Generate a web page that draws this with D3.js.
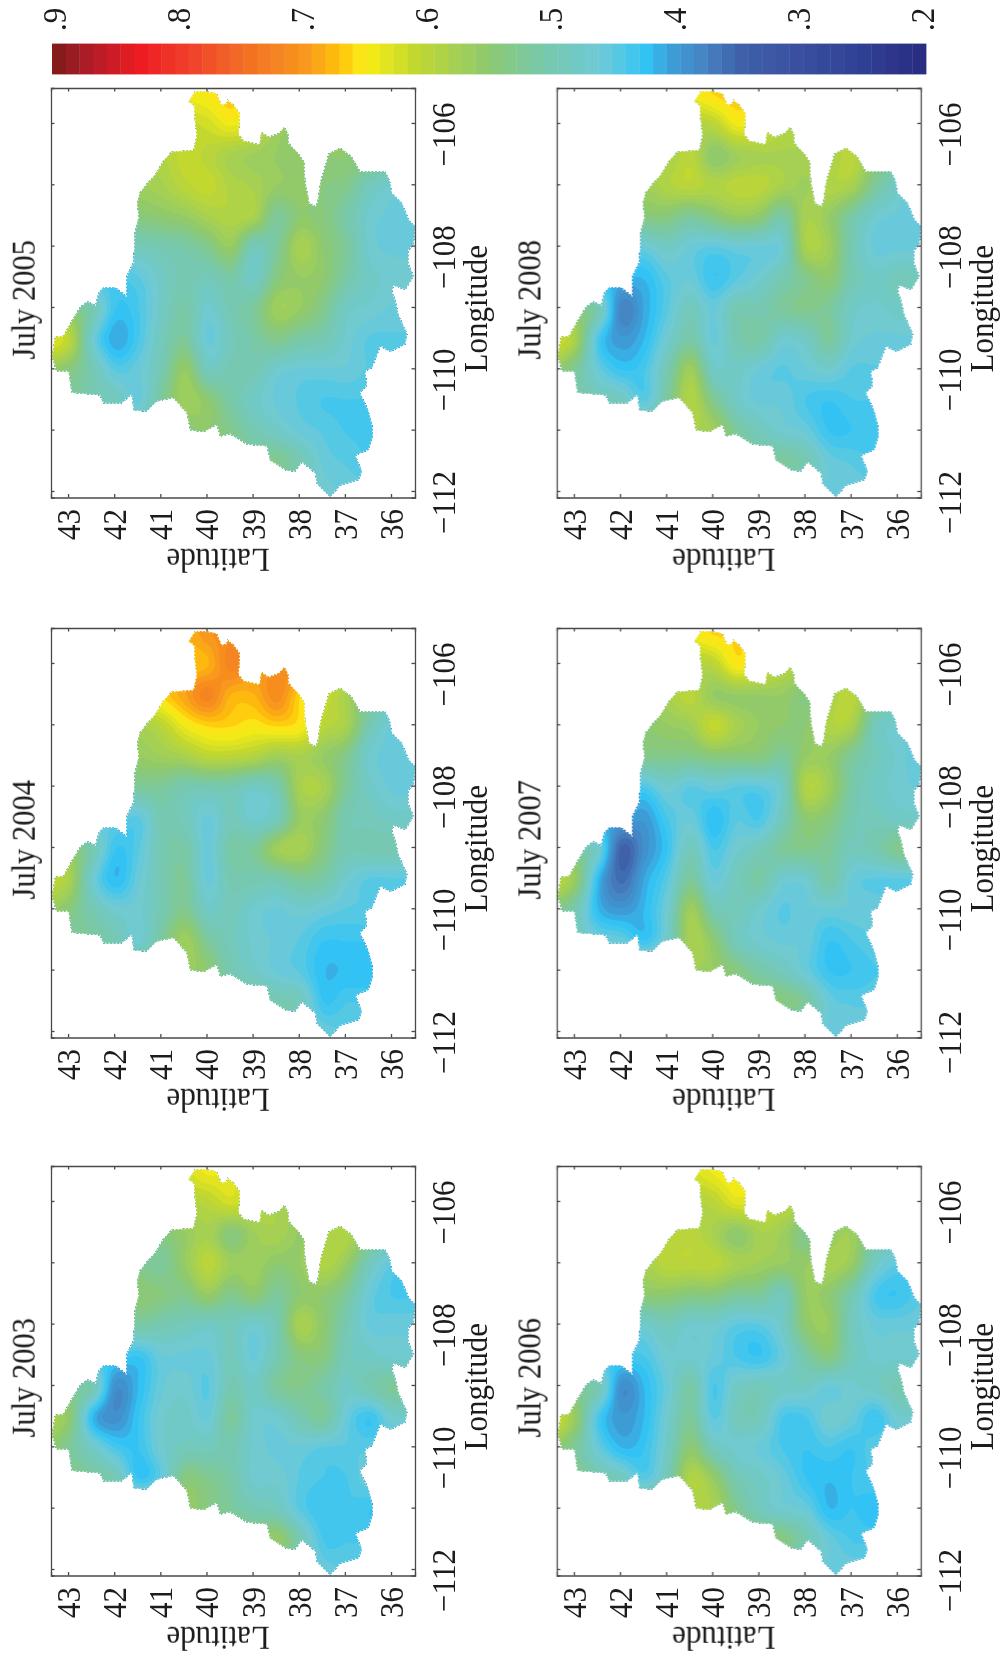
<!DOCTYPE html>
<meta charset="utf-8">
<style>
body { margin: 0; background: #fff; }
text { font-family: "Liberation Serif", serif; fill: #1a1a1a; }
.frame path, .frame line { stroke: #4a4a4a; stroke-width: 1.3px; }
.lab path, .lab line { stroke: none; }
</style>
<svg width="1001" height="1656"></svg>
<script src="https://d3js.org/d3.v7.min.js"></script>
<script>

// grid the values are read on, in hundredths
var gridLat = [43.5,43,42.5,42,41.5,41,40.5,40,39.5,39,38.5,38,37.5,37,36.5,36,35.5];
var gridLon = [-105.5,-106,-106.5,-107,-107.5,-108,-108.5,-109,-109.5,-110,-110.5,-111,-111.5,-112];

var july2005 = [
[62,62,62,62,62,62,64,65,67,64,60,58,56,54,52,50,48],
[60,60,60,60,60,60,61,62,64,62,57,56,55,54,52,50,48],
[58,58,58,58,58,59,61,60,58,57,56,55,55,55,54,52,50],
[55,55,55,56,57,58,60,61,59,58,56,56,54,53,49,47,46],
[52,52,52,53,54,55,56,58,59,58,52,55,54,51,47,46,46],
[47,47,47,48,49,50,51,53,56,49,52,58,55,52,47,46,46],
[44,44,44,44,45,48,50,49,51,48,54,56,55,51,48,47,47],
[56,54,50,43,44,48,51,47,50,52,57,56,53,48,47,46,46],
[63,60,47,41,44,49,52,46,49,51,53,51,50,47,45,45,45],
[56,54,50,45,46,50,56,49,50,50,47,46,46,46,45,45,45],
[52,52,50,49,46,52,57,55,51,48,46,45,44,44,44,44,44],
[50,50,50,50,50,52,54,55,53,50,48,46,45,44,44,44,44],
[50,50,50,50,50,50,52,54,54,53,53,50,46,45,44,44,44],
[50,50,50,50,50,50,50,50,50,50,50,49,47,46,46,46,46]];

var july2004 = [
[68,68,68,68,68,68,68,70,71,70,68,66,64,60,56,52,50],
[66,66,66,66,66,66,67,68,72,70,70,70,65,60,55,52,50],
[62,62,62,62,63,66,69,72,68,68,71,66,62,58,53,50,48],
[58,58,58,58,58,60,64,66,66,65,66,65,60,58,50,46,46],
[55,55,55,55,56,57,58,60,60,59,57,58,56,53,47,46,46],
[52,52,52,52,52,52,50,50,50,48,50,58,58,52,48,46,46],
[46,46,46,46,45,50,49,46,49,47,49,56,55,50,49,48,48],
[56,55,50,43,45,50,51,46,51,52,57,58,54,50,50,50,50],
[60,58,47,42,46,50,52,46,50,50,50,52,51,47,45,45,45],
[57,54,50,47,47,50,53,48,49,47,46,47,46,45,45,45,45],
[52,52,52,50,47,52,57,52,49,47,46,45,43,43,43,43,43],
[52,52,52,52,52,54,56,55,50,48,46,45,42,42,42,42,42],
[50,50,50,50,50,50,52,53,52,52,50,49,43,44,44,44,44],
[48,48,48,48,48,48,48,48,48,48,48,47,46,45,45,45,45]];

var july2003 = [
[60,60,60,60,60,60,62,64,63,60,58,56,56,54,52,50,48],
[58,58,58,58,58,58,59,60,62,60,58,57,56,55,52,50,48],
[54,54,54,54,54,54,56,58,54,57,58,56,58,59,54,50,48],
[53,53,53,53,53,52,56,60,57,57,55,56,59,56,49,45,44],
[54,54,54,54,55,54,53,56,53,55,52,55,55,52,46,44,44],
[50,50,50,50,51,50,49,48,49,47,50,58,55,50,46,46,46],
[44,44,44,44,43,46,46,46,49,46,50,54,54,49,48,47,47],
[54,52,50,39,42,46,47,45,50,48,52,53,51,48,50,52,52],
[58,55,42,39,43,47,48,46,52,47,47,50,52,46,43,47,47],
[56,52,48,44,43,47,49,49,50,47,46,46,45,45,45,45,45],
[54,54,52,50,43,46,54,53,51,47,47,45,44,44,46,46,46],
[54,54,54,54,54,55,56,54,52,50,49,45,43,44,43,43,43],
[52,52,52,52,52,52,54,55,55,54,56,50,44,44,44,44,44],
[50,50,50,50,50,50,50,50,50,50,50,48,46,45,45,45,45]];

var july2008 = [
[62,62,62,62,62,62,64,66,67,66,62,60,58,56,54,52,50],
[58,58,58,58,58,58,59,60,64,63,60,59,58,58,55,52,50],
[58,58,58,58,58,58,60,55,57,58,58,58,58,60,55,52,50],
[57,57,57,57,57,59,60,59,60,60,58,57,59,58,52,48,46],
[54,54,54,54,54,54,52,54,56,55,51,58,56,51,47,46,45],
[46,46,46,46,46,48,46,45,46,46,47,58,57,50,46,46,46],
[42,42,42,42,42,45,46,43,45,47,50,53,55,50,48,49,49],
[56,54,50,38,41,45,49,46,50,50,52,53,52,48,47,48,48],
[62,58,44,40,42,47,51,46,50,51,47,48,52,47,46,46,46],
[56,52,46,43,44,50,57,48,48,46,45,46,47,45,45,45,45],
[52,52,50,49,45,52,59,53,48,46,46,44,43,44,44,44,44],
[54,54,54,54,54,56,58,57,52,49,47,46,43,43,44,44,44],
[52,52,52,52,52,52,53,54,53,52,52,50,46,45,44,44,44],
[48,48,48,48,48,48,48,48,48,48,48,47,46,46,46,46,46]];

var july2007 = [
[62,62,62,62,62,62,64,66,66,64,60,58,56,54,52,50,48],
[58,58,58,58,58,58,59,60,65,63,60,58,58,58,55,52,50],
[56,56,56,56,56,58,60,56,56,56,56,54,58,60,54,50,48],
[55,55,55,55,55,56,57,61,58,56,55,55,59,58,49,47,46],
[54,54,54,54,53,53,53,54,54,54,52,56,56,52,49,47,45],
[45,45,45,45,44,47,45,46,45,45,48,59,57,51,48,47,46],
[41,41,41,41,40,44,46,42,45,44,49,55,54,50,49,48,48],
[54,52,47,35,39,43,49,44,47,49,52,53,52,49,50,53,53],
[60,56,42,36,41,45,52,46,49,51,47,47,51,46,45,45,45],
[54,50,42,40,42,47,57,50,49,47,45,46,46,46,46,46,46],
[50,50,47,46,43,48,58,55,49,47,46,46,43,44,45,45,45],
[54,54,54,54,54,55,57,56,54,51,49,46,43,43,44,44,44],
[52,52,52,52,52,52,53,54,54,54,54,52,46,45,45,45,45],
[48,48,48,48,48,48,48,48,48,48,48,47,46,46,46,46,46]];

var july2006 = [
[60,60,60,60,60,60,62,64,65,62,60,58,56,54,52,50,48],
[58,58,58,58,58,58,59,60,63,62,60,59,57,56,54,52,50],
[58,58,58,58,58,59,60,58,55,58,57,53,56,57,52,50,48],
[58,58,58,58,58,60,60,60,58,57,56,56,58,56,48,45,44],
[55,55,55,55,55,55,54,54,52,52,49,56,55,50,44,43,45],
[47,47,47,47,47,49,47,47,45,45,48,55,56,49,46,46,46],
[44,44,44,44,44,47,47,46,44,43,46,51,54,49,47,47,47],
[54,52,50,39,42,46,51,44,48,49,48,48,46,47,48,50,50],
[62,56,44,40,42,47,52,45,49,49,44,44,47,46,43,47,47],
[56,52,46,42,43,48,55,49,47,46,44,43,44,43,45,45,45],
[54,54,51,49,45,50,59,56,50,48,46,43,42,43,44,44,44],
[55,55,55,55,55,56,58,58,53,49,47,46,42,43,42,42,42],
[52,52,52,52,52,52,54,56,56,55,54,50,46,44,44,44,44],
[48,48,48,48,48,48,48,48,48,48,48,47,46,46,46,46,46]];

// basin outline, [lat, lon]
var outline = [[40.25,-105.49],[40.06,-105.48],[39.78,-105.52],[39.67,-105.71],[39.56,-105.68],[39.54,-105.62],[39.41,-105.71],[39.28,-105.84],
[39.30,-106.19],[39.20,-106.29],[38.85,-106.35],[38.81,-106.15],[38.65,-106.23],[38.44,-106.17],[38.31,-106.07],[38.22,-106.20],[38.22,-106.33],
[38.00,-106.50],[37.88,-106.64],[37.86,-106.96],[37.77,-107.31],[37.64,-107.36],[37.59,-107.28],[37.53,-106.96],[37.35,-106.50],[37.10,-106.41],
[36.85,-106.55],[36.67,-106.79],[36.12,-106.79],[36.02,-106.96],[35.98,-107.14],[35.76,-107.31],[35.62,-107.57],[35.47,-107.69],[35.51,-107.98],
[35.62,-108.07],[35.62,-108.30],[35.51,-108.50],[35.69,-108.72],[35.94,-108.65],[35.98,-108.74],[35.91,-108.88],[35.84,-109.12],[35.65,-109.44],
[35.69,-109.61],[36.02,-109.73],[36.23,-109.64],[36.41,-109.99],[36.56,-110.05],[36.52,-110.28],[36.67,-110.40],[36.49,-110.69],[36.41,-110.92],
[36.39,-111.10],[36.49,-111.33],[36.77,-111.42],[36.63,-111.68],[36.70,-111.82],[37.10,-111.91],[37.32,-112.10],[37.61,-111.88],[37.64,-111.71],
[37.93,-111.53],[38.08,-111.68],[38.26,-111.67],[38.62,-111.50],[38.69,-111.27],[39.12,-111.24],[39.49,-111.07],[39.70,-111.11],[39.78,-110.92],
[40.06,-111.04],[40.35,-111.01],[40.43,-110.72],[40.72,-110.48],[41.08,-110.54],[41.29,-110.70],[41.58,-110.69],[41.62,-110.43],[41.84,-110.57],
[42.23,-110.57],[42.31,-110.44],[42.92,-110.40],[42.99,-110.05],[43.25,-110.05],[43.35,-109.81],[43.28,-109.49],[43.10,-109.47],[42.92,-109.23],
[42.74,-109.00],[42.58,-108.91],[42.41,-108.97],[42.34,-108.77],[42.23,-108.68],[41.98,-108.68],[41.74,-108.82],[41.73,-108.50],[41.58,-108.27],
[41.57,-108.07],[41.55,-107.78],[41.47,-107.54],[41.50,-107.31],[41.45,-107.14],[41.29,-106.99],[41.11,-106.84],[40.93,-106.61],[40.75,-106.47],
[40.28,-106.44],[40.21,-106.20],[40.25,-105.97],[40.27,-105.71],[40.39,-105.65]];

var latTicks = [43,42,41,40,39,38,37,36];
var lonTicks = [-106,-107,-108,-109,-110,-111,-112];
var lonLabels = [-106,-108,-110,-112];
var barTicks = [.9,.8,.7,.6,.5,.4,.3,.2];

var colorStops = [20,25,30,35,37.5,40.5,42.5,46,51,55,61,65,67,70,75,79,83,87,90];
var colorHex = ["#2a2c80","#2f3f94","#3a4f9f","#3f61a9","#4680c0","#3d9fd8","#30c4f5","#6dcad8","#78c8a8","#8dc971","#c3d82f","#fbee14","#ffc20e","#f7941d","#f26b25","#f0402a","#ed1c24","#b01e26","#7a1a1c"];

var panels = [
  {title: "July 2005", values: july2005, col: 0, row: 0},
  {title: "July 2004", values: july2004, col: 0, row: 1},
  {title: "July 2003", values: july2003, col: 0, row: 2},
  {title: "July 2008", values: july2008, col: 1, row: 0},
  {title: "July 2007", values: july2007, col: 1, row: 1},
  {title: "July 2006", values: july2006, col: 1, row: 2}
];

var colLeft = [51, 556.7], rowTop = [88, 628, 1166];
var panelW = 364, panelH = 409.5;
var nLevels = 64;
var stretch = "scale(1,1.08)";

var svg = d3.select("svg");
var page = svg.append("g");

var color = d3.scaleLinear().domain(colorStops).range(colorHex);
var barValue = d3.scaleLinear().domain([0, nLevels]).range([90, 20]);
var levels = d3.range(nLevels).map(function(i) { return barValue(i + 1); }).reverse();
function levelColor(t) { return color(t + 70 / nLevels / 2); }

// colour bar
var barX = d3.scaleLinear().domain([90, 20]).range([52, 926]);
var barLabelX = d3.scaleLinear().domain([.9, .2]).range([54, 922]);
var bar = page.append("g");
bar.selectAll("rect")
    .data(levels)
  .enter().append("rect")
    .attr("x", function(d) { return barX(d + 70 / nLevels); })
    .attr("y", 43.6)
    .attr("width", 874 / nLevels + 0.4)
    .attr("height", 30.8)
    .attr("fill", levelColor);

var barAxis = page.append("g")
    .attr("class", "lab")
    .attr("transform", "translate(0,31)")
    .call(d3.axisTop(barLabelX).tickValues(barTicks).tickSize(0).tickFormat(function(d) { return d3.format(".1f")(d).replace("0", ""); }));
barAxis.selectAll("text")
    .attr("y", 0).attr("dy", 0)
    .attr("text-anchor", "start")
    .attr("font-size", 31)
    .attr("transform", "translate(11,0) rotate(-90) " + stretch);

// bicubic refinement of the read grid so the bands come out round
function cr(a, b, c, d, t) {
  return b + 0.5 * t * (c - a + t * (2 * a - 5 * b + 4 * c - d + t * (3 * (b - c) + d - a)));
}
var K = 8;
function refine(values) {
  var nr = values.length, nc = values[0].length;
  var w = (nc + 1) * K + 1, h = (nr + 1) * K + 1, out = new Array(w * h);
  function at(r, c) { return values[Math.max(0, Math.min(nr - 1, r))][Math.max(0, Math.min(nc - 1, c))]; }
  for (var j = 0; j < h; j++) {
    var v = j / K - 1, r0 = Math.floor(v), tv = v - r0;
    for (var i = 0; i < w; i++) {
      var u = i / K - 1, c0 = Math.floor(u), tu = u - c0, p = [];
      for (var m = -1; m <= 2; m++) {
        p.push(cr(at(r0 + m, c0 - 1), at(r0 + m, c0), at(r0 + m, c0 + 1), at(r0 + m, c0 + 2), tu));
      }
      out[j * w + i] = cr(p[0], p[1], p[2], p[3], tv);
    }
  }
  return {w: w, h: h, data: out};
}

panels.forEach(function(p, n) {
  var x0 = colLeft[p.col], y0 = rowTop[p.row];
  var g = page.append("g").attr("transform", "translate(" + x0 + "," + y0 + ")");

  var lat = d3.scaleLinear().domain([43.37, 35.48]).range([0, panelW]);
  var lon = d3.scaleLinear().domain([-105.43, -112.106]).range([0, panelH]);

  var colIdx = d3.scaleLinear().domain([0, gridLat.length - 1]).range([gridLat[0], gridLat[gridLat.length - 1]]);
  var rowIdx = d3.scaleLinear().domain([0, gridLon.length - 1]).range([gridLon[0], gridLon[gridLon.length - 1]]);

  var basin = d3.line().x(function(d) { return lat(d[0]); }).y(function(d) { return lon(d[1]); }).curve(d3.curveLinearClosed)(outline);
  var clipId = "basin" + n;
  g.append("clipPath").attr("id", clipId)
    .append("path")
    .attr("d", basin);

  var field = refine(p.values);
  var contours = d3.contours().size([field.w, field.h]).thresholds(levels)(field.data);
  var toScreen = d3.geoTransform({
    point: function(u, v) {
      this.stream.point(lat(colIdx(u / K - 1)), lon(rowIdx(v / K - 1)));
    }
  });
  var path = d3.geoPath(toScreen);

  g.append("g").attr("clip-path", "url(#" + clipId + ")")
    .selectAll("path")
    .data(contours)
  .enter().append("path")
    .attr("d", path)
    .attr("fill", function(d) { return levelColor(d.value); });

  // serrated grid-cell edge of the basin
  g.append("path")
      .attr("d", basin)
      .attr("fill", "none")
      .attr("stroke", "#fff")
      .attr("stroke-width", 1.1)
      .attr("stroke-dasharray", "1.4,2.1");

  // frame and inward ticks on all four sides
  function noLabel() { return ""; }
  g.append("g").attr("class", "frame")
      .call(d3.axisBottom(lat).tickValues(latTicks).tickSize(3.5).tickFormat(noLabel));
  g.append("g").attr("class", "frame").attr("transform", "translate(0," + panelH + ")")
      .call(d3.axisTop(lat).tickValues(latTicks).tickSize(3.5).tickFormat(noLabel));
  g.append("g").attr("class", "frame")
      .call(d3.axisRight(lon).tickValues(lonTicks).tickSize(3.5).tickFormat(noLabel));
  g.append("g").attr("class", "frame").attr("transform", "translate(" + panelW + ",0)")
      .call(d3.axisLeft(lon).tickValues(lonTicks).tickSize(3.5).tickFormat(noLabel));

  // tick labels
  var latAxis = g.append("g").attr("class", "lab").attr("transform", "translate(0," + panelH + ")")
      .call(d3.axisBottom(lat).tickValues(latTicks).tickSize(0));
  latAxis.selectAll("text")
      .attr("y", 0).attr("dy", 0)
      .attr("font-size", 31)
      .attr("transform", "translate(11.5,27) rotate(-90) " + stretch);

  var lonAxis = g.append("g").attr("class", "lab").attr("transform", "translate(" + panelW + ",0)")
      .call(d3.axisRight(lon).tickValues(lonLabels).tickSize(0).tickFormat(function(d) { return "\u2212" + Math.abs(d); }));
  lonAxis.selectAll("text")
      .attr("x", 0).attr("dy", 0)
      .attr("text-anchor", "middle")
      .attr("font-size", 31)
      .attr("transform", "translate(40,11) rotate(-90) " + stretch);

  // labels and title
  g.append("text")
      .attr("text-anchor", "middle").attr("font-size", 30.5)
      .attr("transform", "translate(-16," + (panelH / 2 + 7) + ") rotate(-90) " + stretch)
      .text(p.title);
  g.append("text")
      .attr("text-anchor", "middle").attr("font-size", 31)
      .attr("transform", "translate(" + (panelW + 72) + "," + (panelH / 2 + 16) + ") rotate(-90) " + stretch)
      .text("Longitude");
  g.append("text")
      .attr("text-anchor", "middle").attr("font-size", 31)
      .attr("transform", "translate(167," + (panelH + 51) + ") rotate(180) scale(1,1.08)")
      .text("Latitude");
});

// the reference is a soft scan, take the edge off
var defs = svg.append("defs");
defs.append("filter").attr("id", "soft")
    .attr("x", 0).attr("y", 0).attr("width", 1).attr("height", 1)
    .attr("filterUnits", "objectBoundingBox")
  .append("feGaussianBlur").attr("stdDeviation", 0.5);
page.attr("filter", "url(#soft)");

</script>
